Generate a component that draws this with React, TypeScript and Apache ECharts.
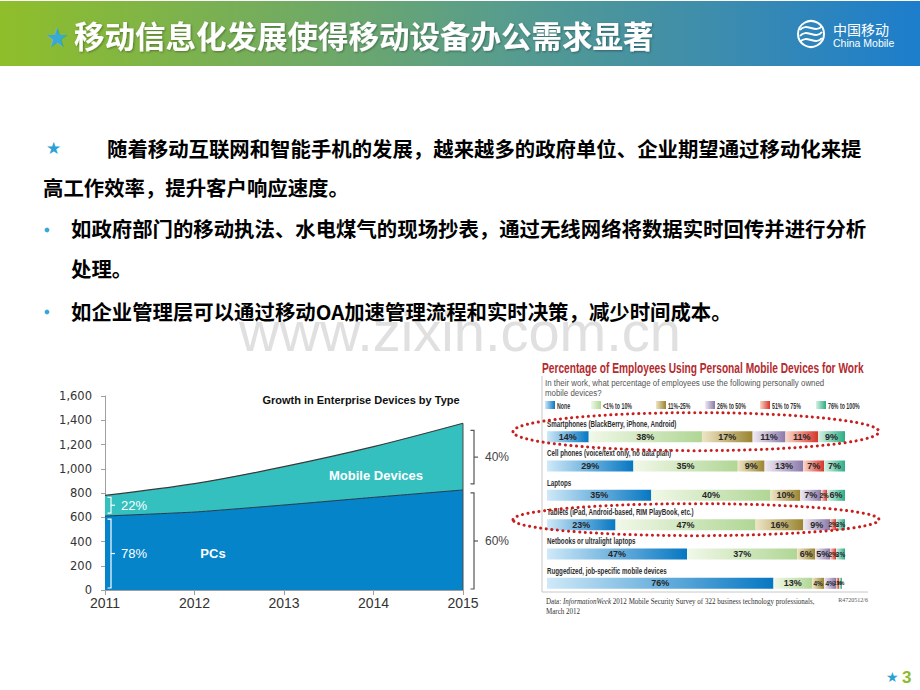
import React, { useEffect, useRef } from "react";
import * as echarts from "echarts";

// ---------------- Data ----------------
const years = ["2011", "2012", "2013", "2014", "2015"];
const pcUnits = [610, 643, 701, 764, 825];
const mobileUnits = [170, 234, 316, 418, 550];

const deviceTypes = [
  "Smartphones (BlackBerry, iPhone, Android)",
  "Cell phones (voice/text only, no data plan)",
  "Laptops",
  "Tablets (iPad, Android-based, RIM PlayBook, etc.)",
  "Netbooks or ultralight laptops",
  "Ruggedized, job-specific mobile devices",
];
const shareBuckets = ["None", "<1% to 10%", "11%-25%", "26% to 50%", "51% to 75%", "76% to 100%"];
const shareNone = [14, 29, 35, 23, 47, 76];
const shareUpTo10 = [38, 35, 40, 47, 37, 13];
const share11to25 = [17, 9, 10, 16, 6, 4];
const share26to50 = [11, 13, 7, 9, 5, 4];
const share51to75 = [11, 7, 2, 2, 2, 1];
const share76to100 = [9, 7, 6, 3, 3, 1];

const titleText = "移动信息化发展使得移动设备办公需求显著";
const bodyLine1 = "随着移动互联网和智能手机的发展，越来越多的政府单位、企业期望通过移动化来提";
const bodyLine2 = "高工作效率，提升客户响应速度。";
const bullet1a = "如政府部门的移动执法、水电煤气的现场抄表，通过无线网络将数据实时回传并进行分析";
const bullet1b = "处理。";
const bullet2 = "如企业管理层可以通过移动OA加速管理流程和实时决策，减少时间成本。";

// ---------------- Styles ----------------
const FONT_CN = "'Noto Sans CJK SC', 'Noto Sans', sans-serif";
const FONT_EN = "'Liberation Sans', Arial, sans-serif";
const FONT_SERIF = "'Liberation Serif', serif";

const bucketData = [shareNone, shareUpTo10, share11to25, share26to50, share51to75, share76to100];
const bucketColors = [
  ["#cfe9f8", "#0677c2"],
  ["#f1f8e8", "#b0d695"],
  ["#eee5c6", "#9a8430"],
  ["#f0ebf4", "#8b79a9"],
  ["#fad8ca", "#d6352b"],
  ["#d6f2e5", "#2dac84"],
];
const legendLeft = [545, 591, 656, 705, 760, 816];

const hGrad = (a: string, b: string) =>
  new echarts.graphic.LinearGradient(0, 0, 1, 0, [
    { offset: 0, color: a },
    { offset: 1, color: b },
  ]);

let measureCtx: CanvasRenderingContext2D | null = null;
function textWidth(text: string, font: string) {
  if (!measureCtx) measureCtx = document.createElement("canvas").getContext("2d");
  measureCtx!.font = font;
  return measureCtx!.measureText(text).width;
}
function fit(text: string, font: string, target: number) {
  const w = textWidth(text, font);
  return w > 0 ? target / w : 1;
}

function buildOption(): any {
  return {
    animation: false,
    backgroundColor: "#ffffff",
    grid: [
      { left: 105, top: 396, width: 358, height: 194 },
      { left: 547, top: 422, width: 298, height: 176 },
    ],
    xAxis: [
      {
        gridIndex: 0,
        type: "category",
        data: years,
        boundaryGap: false,
        axisLine: { lineStyle: { color: "#a0a0a0", width: 1 } },
        axisTick: { show: true, length: 5, alignWithLabel: true, lineStyle: { color: "#a0a0a0" } },
        axisLabel: { fontSize: 14, color: "#333", fontFamily: FONT_EN, margin: 6 },
        splitLine: { show: false },
      },
      { gridIndex: 1, type: "value", min: 0, max: 100, show: false },
    ],
    yAxis: [
      {
        gridIndex: 0,
        type: "value",
        min: 0,
        max: 1600,
        interval: 200,
        axisLine: { show: true, lineStyle: { color: "#a0a0a0", width: 1 } },
        axisTick: { show: true, length: 4, lineStyle: { color: "#a0a0a0" } },
        splitLine: { show: false },
        axisLabel: {
          fontSize: 11.5,
          color: "#333",
          fontFamily: "'DejaVu Sans', sans-serif",
          margin: 13,
          formatter: (v: number) => v.toLocaleString("en-US"),
        },
      },
      { gridIndex: 1, type: "category", data: deviceTypes, inverse: true, show: false },
    ],
    legend: shareBuckets.map((name, i) => ({
      data: [name],
      left: legendLeft[i],
      top: 401,
      padding: 0,
      itemWidth: 10,
      itemHeight: 8,
      icon: "rect",
      selectedMode: false,
      formatter: () => "",
    })),
    series: [
      {
        name: "PCs",
        type: "line",
        stack: "devices",
        xAxisIndex: 0,
        yAxisIndex: 0,
        data: pcUnits,
        symbol: "none",
        smooth: 0.15,
        lineStyle: { color: "#263a4a", width: 1 },
        areaStyle: { color: "#0584ca", opacity: 1 },
        z: 2,
      },
      {
        name: "Mobile Devices",
        type: "line",
        stack: "devices",
        xAxisIndex: 0,
        yAxisIndex: 0,
        data: mobileUnits,
        symbol: "none",
        smooth: 0.3,
        lineStyle: { color: "#3a3a3a", width: 1.2 },
        areaStyle: { color: "#33c0bf", opacity: 1 },
        z: 1,
      },
      ...shareBuckets.map((name, i) => ({
        name,
        type: "bar",
        stack: "share",
        xAxisIndex: 1,
        yAxisIndex: 1,
        barWidth: 11,
        data: bucketData[i].map((v) =>
          v <= 4 ? { value: v, label: { fontSize: v <= 1 ? 5.5 : 6.5 } } : v
        ),
        itemStyle: { color: hGrad(bucketColors[i][0], bucketColors[i][1]) },
        label: {
          show: true,
          position: "inside",
          formatter: "{c}%",
          fontSize: 9,
          fontWeight: "bold",
          fontFamily: FONT_EN,
          color: "#262626",
        },
      })),
    ],
  };
}

function buildGraphics(chart: any): any[] {
  const G: any[] = [];
  const txt = (x: number, y: number, style: any, extra: any = {}) =>
    G.push({ type: "text", x, y, ...extra, style: { align: "left", verticalAlign: "middle", ...style } });

  // Header band
  G.push({
    type: "rect",
    shape: { x: 0, y: 1, width: 920, height: 65 },
    style: {
      fill: new echarts.graphic.LinearGradient(0, 0, 1, 0, [
        { offset: 0, color: "#8fbe2a" },
        { offset: 0.35, color: "#6fa967" },
        { offset: 0.55, color: "#579c8e" },
        { offset: 0.8, color: "#3a8bb0" },
        { offset: 1, color: "#1c7dcc" },
      ]),
    },
  });
  txt(45, 37, { text: "★", fill: "#36a9d9", fontSize: 27, fontFamily: "'DejaVu Sans', sans-serif" });
  txt(74, 35, {
    text: titleText,
    fill: "#ffffff",
    fontSize: 30.5,
    fontWeight: "bold",
    fontFamily: FONT_CN,
    textShadowColor: "rgba(0,0,0,0.35)",
    textShadowBlur: 2,
    textShadowOffsetX: 1,
    textShadowOffsetY: 1,
  });
  // China Mobile logo (approximation)
  G.push({ type: "circle", shape: { cx: 811, cy: 34, r: 13 }, style: { fill: "none", stroke: "#ffffff", lineWidth: 2 } });
  [-6, 0, 6].forEach((d) =>
    G.push({
      type: "bezierCurve",
      shape: { x1: 800, y1: 36 + d, cpx1: 806, cpy1: 28 + d, cpx2: 816, cpy2: 40 + d, x2: 822, y2: 32 + d },
      style: { fill: "none", stroke: "#ffffff", lineWidth: 2 },
    })
  );
  txt(833, 29, { text: "中国移动", fill: "#ffffff", fontSize: 14, fontFamily: FONT_CN });
  txt(833, 43, { text: "China Mobile", fill: "#ffffff", fontSize: 10.5, fontFamily: FONT_EN });

  // Watermark
  G.push({
    type: "text",
    x: 460,
    y: 331,
    z: -5,
    style: {
      text: "www.zixin.com.cn",
      fill: "#e0e0e0",
      fontSize: 56,
      lineHeight: 20,
      fontFamily: FONT_EN,
      align: "center",
      verticalAlign: "middle",
    },
  });

  // Body text
  const body = { fill: "#000000", fontSize: 20.4, fontWeight: "bold", fontFamily: FONT_CN };
  txt(46, 148, { text: "★", fill: "#2aa2d3", fontSize: 17, fontFamily: "'DejaVu Sans', sans-serif" });
  txt(107, 148, { text: bodyLine1, ...body });
  txt(43, 187, { text: bodyLine2, ...body });
  G.push({ type: "circle", shape: { cx: 47, cy: 230, r: 2.4 }, style: { fill: "#3aa6d6" } });
  txt(71, 228, { text: bullet1a, ...body });
  txt(71, 268, { text: bullet1b, ...body });
  G.push({ type: "circle", shape: { cx: 47, cy: 312, r: 2.4 }, style: { fill: "#3aa6d6" } });
  txt(71, 311, { text: bullet2, ...body });

  // ---- Left area chart annotations ----
  const p = (i: number, v: number) => chart.convertToPixel({ gridIndex: 0 }, [i, v]) as number[];
  const last = years.length - 1;
  const t0 = p(0, pcUnits[0] + mobileUnits[0]);
  const m0 = p(0, pcUnits[0]);
  const b0 = p(0, 0);
  const tN = p(last, pcUnits[last] + mobileUnits[last]);
  const mN = p(last, pcUnits[last]);
  const bN = p(last, 0);
  const pct = (a: number, tot: number) => Math.round((a / tot) * 100) + "%";

  const bracket = (x: number, y1: number, y2: number, color: string) => {
    G.push({
      type: "polyline",
      z: 5,
      shape: { points: [[x - 3.5, y1], [x, y1], [x, y2], [x - 3.5, y2]] },
      style: { stroke: color, lineWidth: 1.2, fill: null },
    });
    G.push({
      type: "line",
      z: 5,
      shape: { x1: x, y1: (y1 + y2) / 2, x2: x + 4, y2: (y1 + y2) / 2 },
      style: { stroke: color, lineWidth: 1.2 },
    });
    return (y1 + y2) / 2;
  };

  G.push({
    type: "line",
    z: 5,
    shape: { x1: tN[0], y1: tN[1], x2: bN[0], y2: bN[1] },
    style: { stroke: "#4a4a4a", lineWidth: 1 },
  });

  const tot0 = pcUnits[0] + mobileUnits[0];
  const totN = pcUnits[last] + mobileUnits[last];
  const lx = b0[0] + 6;
  const yMob0 = bracket(lx, t0[1] + 2, m0[1] - 3, "#ffffff");
  const yPc0 = bracket(lx, m0[1] + 3, b0[1] - 2, "#ffffff");
  txt(b0[0] + 16, yMob0, { text: pct(mobileUnits[0], tot0), fill: "#ffffff", fontSize: 13, fontFamily: FONT_EN }, { z: 5 });
  txt(b0[0] + 16, yPc0, { text: pct(pcUnits[0], tot0), fill: "#ffffff", fontSize: 13, fontFamily: FONT_EN }, { z: 5 });

  const rx = bN[0] + 11;
  const yMobN = bracket(rx, tN[1] + 7, mN[1] - 6, "#555555");
  const yPcN = bracket(rx, mN[1] + 3, bN[1] - 1, "#555555");
  txt(bN[0] + 22, yMobN, { text: pct(mobileUnits[last], totN), fill: "#444", fontSize: 12, fontFamily: FONT_EN });
  txt(bN[0] + 22, yPcN, { text: pct(pcUnits[last], totN), fill: "#444", fontSize: 12, fontFamily: FONT_EN });

  txt(361, 400, { text: "Growth in Enterprise Devices by Type", fill: "#111", fontSize: 11, fontWeight: "bold", fontFamily: FONT_EN, align: "center" });
  txt(376, 475, { text: "Mobile Devices", fill: "#ffffff", fontSize: 13, fontWeight: "bold", fontFamily: FONT_EN, align: "center" }, { z: 5 });
  txt(213, 553, { text: "PCs", fill: "#ffffff", fontSize: 13, fontWeight: "bold", fontFamily: FONT_EN, align: "center" }, { z: 5 });

  // ---- Right bar chart decorations ----
  const title2 = "Percentage of Employees Using Personal Mobile Devices for Work";
  const sT = fit(title2, "bold 15px 'Liberation Sans'", 322);
  txt(542, 368, { text: title2, fill: "#b42a2e", fontSize: 15, fontWeight: "bold", fontFamily: "'Liberation Sans'" }, { scaleX: sT });

  const sub1 = "In their work, what percentage of employees use the following personally owned";
  const sS = fit(sub1, "9.5px 'Liberation Sans'", 280);
  txt(545, 383, { text: sub1, fill: "#555", fontSize: 9.5, fontFamily: "'Liberation Sans'" }, { scaleX: sS });
  txt(545, 393, { text: "mobile devices?", fill: "#555", fontSize: 9.5, fontFamily: "'Liberation Sans'" }, { scaleX: sS });

  // legend labels (condensed)
  const sL = fit(shareBuckets[1], "bold 8.5px 'Liberation Sans'", 29);
  shareBuckets.forEach((name, i) => {
    txt(legendLeft[i] + 12, 405.5, { text: name, fill: "#333", fontSize: 8.5, fontWeight: "bold", fontFamily: "'Liberation Sans'" }, { scaleX: sL });
  });

  const sC = fit(deviceTypes[0], "bold 9.5px 'Liberation Sans'", 130);
  deviceTypes.forEach((name, i) => {
    const c = chart.convertToPixel({ gridIndex: 1 }, [0, i]) as number[];
    txt(c[0], c[1] - 12.5, { text: name, fill: "#2e2e2e", fontSize: 9.5, fontWeight: "bold", fontFamily: "'Liberation Sans'" }, { scaleX: sC, z: 6 });
  });

  // frame
  G.push({ type: "line", shape: { x1: 542, y1: 376, x2: 542, y2: 592 }, style: { stroke: "#c8c8c8", lineWidth: 1 } });
  G.push({ type: "line", shape: { x1: 542, y1: 592, x2: 868, y2: 592 }, style: { stroke: "#c8c8c8", lineWidth: 1 } });

  const foot = "Data: InformationWeek 2012 Mobile Security Survey of 322 business technology professionals,";
  const sF = fit(foot, "7.5px 'Liberation Serif'", 270);
  txt(
    546,
    602,
    {
      text: "Data: {i|InformationWeek} 2012 Mobile Security Survey of 322 business technology professionals,",
      fill: "#333",
      fontSize: 7.5,
      fontFamily: FONT_SERIF,
      rich: { i: { fontStyle: "italic", fontSize: 7.5, fontFamily: FONT_SERIF, fill: "#333" } },
    },
    { scaleX: sF }
  );
  txt(546, 612, { text: "March 2012", fill: "#333", fontSize: 7.5, fontFamily: FONT_SERIF }, { scaleX: sF });
  txt(868, 600, { text: "R4720512/6", fill: "#555", fontSize: 6, fontFamily: FONT_SERIF, align: "right" });

  // dotted ellipses around Smartphones and Tablets rows
  const gridCx = (chart.convertToPixel({ gridIndex: 1 }, [50, 0]) as number[])[0];
  [0, 3].forEach((row, k) => {
    const c = chart.convertToPixel({ gridIndex: 1 }, [0, row]) as number[];
    G.push({
      type: "ellipse",
      z: 10,
      shape: { cx: gridCx, cy: c[1] - 5, rx: 183, ry: k === 0 ? 19 : 16 },
      style: { fill: "none", stroke: "#c81e1e", lineWidth: 3, lineDash: [0.1, 5.5], lineCap: "round" },
    });
  });

  // page number
  txt(886, 677, { text: "★", fill: "#2aa2d3", fontSize: 14, fontFamily: "'DejaVu Sans', sans-serif" });
  txt(902, 677, { text: "3", fill: "#8cbb2e", fontSize: 17, fontWeight: "bold", fontFamily: FONT_EN });

  return G;
}

export default function App() {
  const ref = useRef<HTMLDivElement>(null);
  useEffect(() => {
    const el = ref.current!;
    const chart = echarts.init(el, null, { renderer: "svg" });
    chart.setOption(buildOption());
    chart.setOption({ graphic: buildGraphics(chart) });
    return () => chart.dispose();
  }, []);
  return (
    <div
      ref={ref}
      style={{ position: "fixed", left: 0, top: 0, width: 920, height: 690, background: "#ffffff" }}
    />
  );
}
